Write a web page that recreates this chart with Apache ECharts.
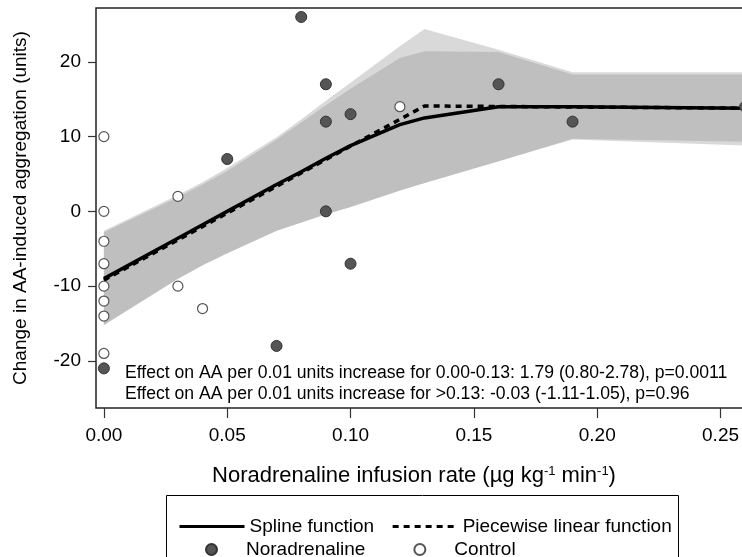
<!DOCTYPE html>
<html>
<head>
<meta charset="utf-8">
<script src="https://cdn.jsdelivr.net/npm/echarts@6/dist/echarts.min.js"></script>
<style>
  html, body { margin: 0; padding: 0; background: #fff; overflow: hidden; }
  /* plot region runs past the right edge of the window, as in the source figure */
  #main { width: 760px; height: 557px; }
</style>
</head>
<body>
<div id="main"></div>
<script>
// fitted curves and confidence bands, evaluated at these x values
const fitX = [0, 0.03, 0.04, 0.05, 0.07, 0.08, 0.09, 0.10, 0.12, 0.13, 0.16, 0.19, 0.26];
const splineY = [-9.0, -3.6, -1.8, 0.0, 3.6, 5.3, 7.1, 8.8, 11.6, 12.5, 14.0, 14.0, 13.8];
const splineLo = [-15.2, -9.0, -7.2, -5.6, -2.6, -1.5, -0.4, 0.6, 2.8, 3.8, 6.7, 9.7, 9.3];
const splineHi = [-2.8, 1.9, 3.6, 5.4, 9.6, 11.9, 14.2, 16.4, 20.5, 21.4, 21.3, 18.3, 18.3];
const pieceLo = [-15.2, -9.0, -7.2, -5.6, -2.6, -1.5, -0.4, 0.6, 2.8, 3.8, 6.7, 9.6, 8.8];
const pieceHi = [-2.6, 2.2, 3.9, 5.8, 9.9, 12.3, 14.8, 17.2, 22.1, 24.4, 21.6, 18.6, 18.6];

const pieceX = [0, 0.13, 0.26];
const pieceY = [-9.2, 14.1, 13.8];

// observed data
const noraX = [0, 0.05, 0.07, 0.08, 0.09, 0.09, 0.09, 0.10, 0.10, 0.16, 0.19, 0.26];
const noraY = [-21, 7, -18, 26, 17, 12, 0, 13, -7, 17, 12, 14];
const ctrlX = [0, 0, 0, 0, 0, 0, 0, 0, 0.03, 0.03, 0.04, 0.12];
const ctrlY = [10, 0, -4, -7, -10, -12, -14, -19, 2, -10, -13, 14];

const xTicks = [0, 0.05, 0.10, 0.15, 0.20, 0.25];
const yTicks = [-20, -10, 0, 10, 20];

const FONT = 'Liberation Sans, Arial, sans-serif';

function zip(xs, ys) {
  return xs.map((x, i) => [x, ys[i]]);
}

function band(lo, hi, color, z) {
  return {
    type: 'custom',
    silent: true,
    z: z,
    data: fitX.map((x, i) => [x, lo[i], hi[i]]),
    encode: { x: 0, y: [1, 2] },
    renderItem: function (params, api) {
      if (params.dataIndex !== 0) return;
      let pts = [];
      for (let i = 0; i < fitX.length; i++) pts.push(api.coord([fitX[i], hi[i]]));
      for (let i = fitX.length - 1; i >= 0; i--) pts.push(api.coord([fitX[i], lo[i]]));
      return { type: 'polygon', shape: { points: pts }, style: { fill: color } };
    }
  };
}

const chart = echarts.init(document.getElementById('main'));

const option = {
  animation: false,
  backgroundColor: '#fff',
  grid: {
    left: 96, top: 8, right: 0, bottom: 149,
    show: true, borderColor: '#222', borderWidth: 1.5, backgroundColor: 'transparent'
  },
  xAxis: {
    type: 'value',
    min: -0.0032, max: 0.266,
    axisLine: { show: false, onZero: false },
    splitLine: { show: false },
    axisTick: { show: true, length: 10, lineStyle: { color: '#333', width: 1.2 }, customValues: xTicks },
    axisLabel: {
      customValues: xTicks, margin: 18, fontSize: 19, color: '#000', fontFamily: FONT,
      formatter: v => v.toFixed(2)
    },
    name: '{a|Noradrenaline infusion rate (µg kg}{s|-1}{a| min}{s|-1}{a|)}',
    nameLocation: 'middle',
    nameGap: 57,
    nameTextStyle: {
      padding: [0, 28, 0, 0],
      rich: {
        a: { fontSize: 22, color: '#000', fontFamily: FONT },
        s: { fontSize: 13, color: '#000', fontFamily: FONT, verticalAlign: 'top' }
      }
    }
  },
  yAxis: {
    type: 'value',
    min: -26.3, max: 27.2,
    axisLine: { show: false, onZero: false },
    splitLine: { show: false },
    axisTick: { show: true, length: 8, lineStyle: { color: '#333', width: 1.2 }, customValues: yTicks },
    axisLabel: { customValues: yTicks, margin: 15, fontSize: 19, color: '#000', fontFamily: FONT },
    name: 'Change in AA-induced aggregation (units)',
    nameLocation: 'middle',
    nameGap: 66,
    nameTextStyle: { fontSize: 19, color: '#000', fontFamily: FONT }
  },
  legend: [
    {
      data: ['Spline function', 'Piecewise linear function'],
      left: 173, top: 512,
      itemWidth: 65, itemHeight: 14, itemGap: 17,
      selectedMode: false,
      itemStyle: { color: 'rgba(0,0,0,0)', borderWidth: 0 },
      lineStyle: { width: 3 },
      textStyle: { fontSize: 19, color: '#000', fontFamily: FONT, width: 130 }
    },
    {
      data: ['Noradrenaline', 'Control'],
      left: 200, top: 535,
      itemWidth: 11, itemHeight: 11, itemGap: 48,
      selectedMode: false,
      textStyle: { fontSize: 19, color: '#000', fontFamily: FONT, width: 130, padding: [0, 0, 0, 24] }
    }
  ],
  graphic: [
    {
      type: 'rect', left: 164, top: 493, silent: true,
      shape: { width: 512, height: 90 },
      style: { fill: 'none', stroke: '#000', lineWidth: 1 }
    },
    {
      type: 'text', left: 125, top: 363, silent: true,
      style: {
        text: 'Effect on AA per 0.01 units increase for 0.00-0.13: 1.79 (0.80-2.78), p=0.0011\n' +
              'Effect on AA per 0.01 units increase for >0.13: -0.03 (-1.11-1.05), p=0.96',
        font: '17.6px ' + FONT, lineHeight: 21, fill: '#000'
      }
    }
  ],
  series: [
    band(pieceLo, pieceHi, '#d9d9d9', 1),
    band(splineLo, splineHi, '#bfbfbf', 2),
    {
      name: 'Spline function', type: 'line', data: zip(fitX, splineY),
      symbol: 'none', z: 3,
      lineStyle: { color: '#000', width: 3.5 }, itemStyle: { color: '#000' }
    },
    {
      name: 'Piecewise linear function', type: 'line', data: zip(pieceX, pieceY),
      symbol: 'none', z: 4,
      lineStyle: { color: '#000', width: 3.5, type: [6, 5] }, itemStyle: { color: '#000' }
    },
    {
      name: 'Noradrenaline', type: 'scatter', data: zip(noraX, noraY),
      symbol: 'circle', symbolSize: 11, z: 5,
      itemStyle: { color: '#555', borderColor: '#333', borderWidth: 1, opacity: 1 }
    },
    {
      name: 'Control', type: 'scatter', data: zip(ctrlX, ctrlY),
      symbol: 'circle', symbolSize: 10, z: 5,
      itemStyle: { color: '#fff', borderColor: '#555', borderWidth: 1.2, opacity: 1 }
    }
  ]
};

chart.setOption(option);
</script>
</body>
</html>
